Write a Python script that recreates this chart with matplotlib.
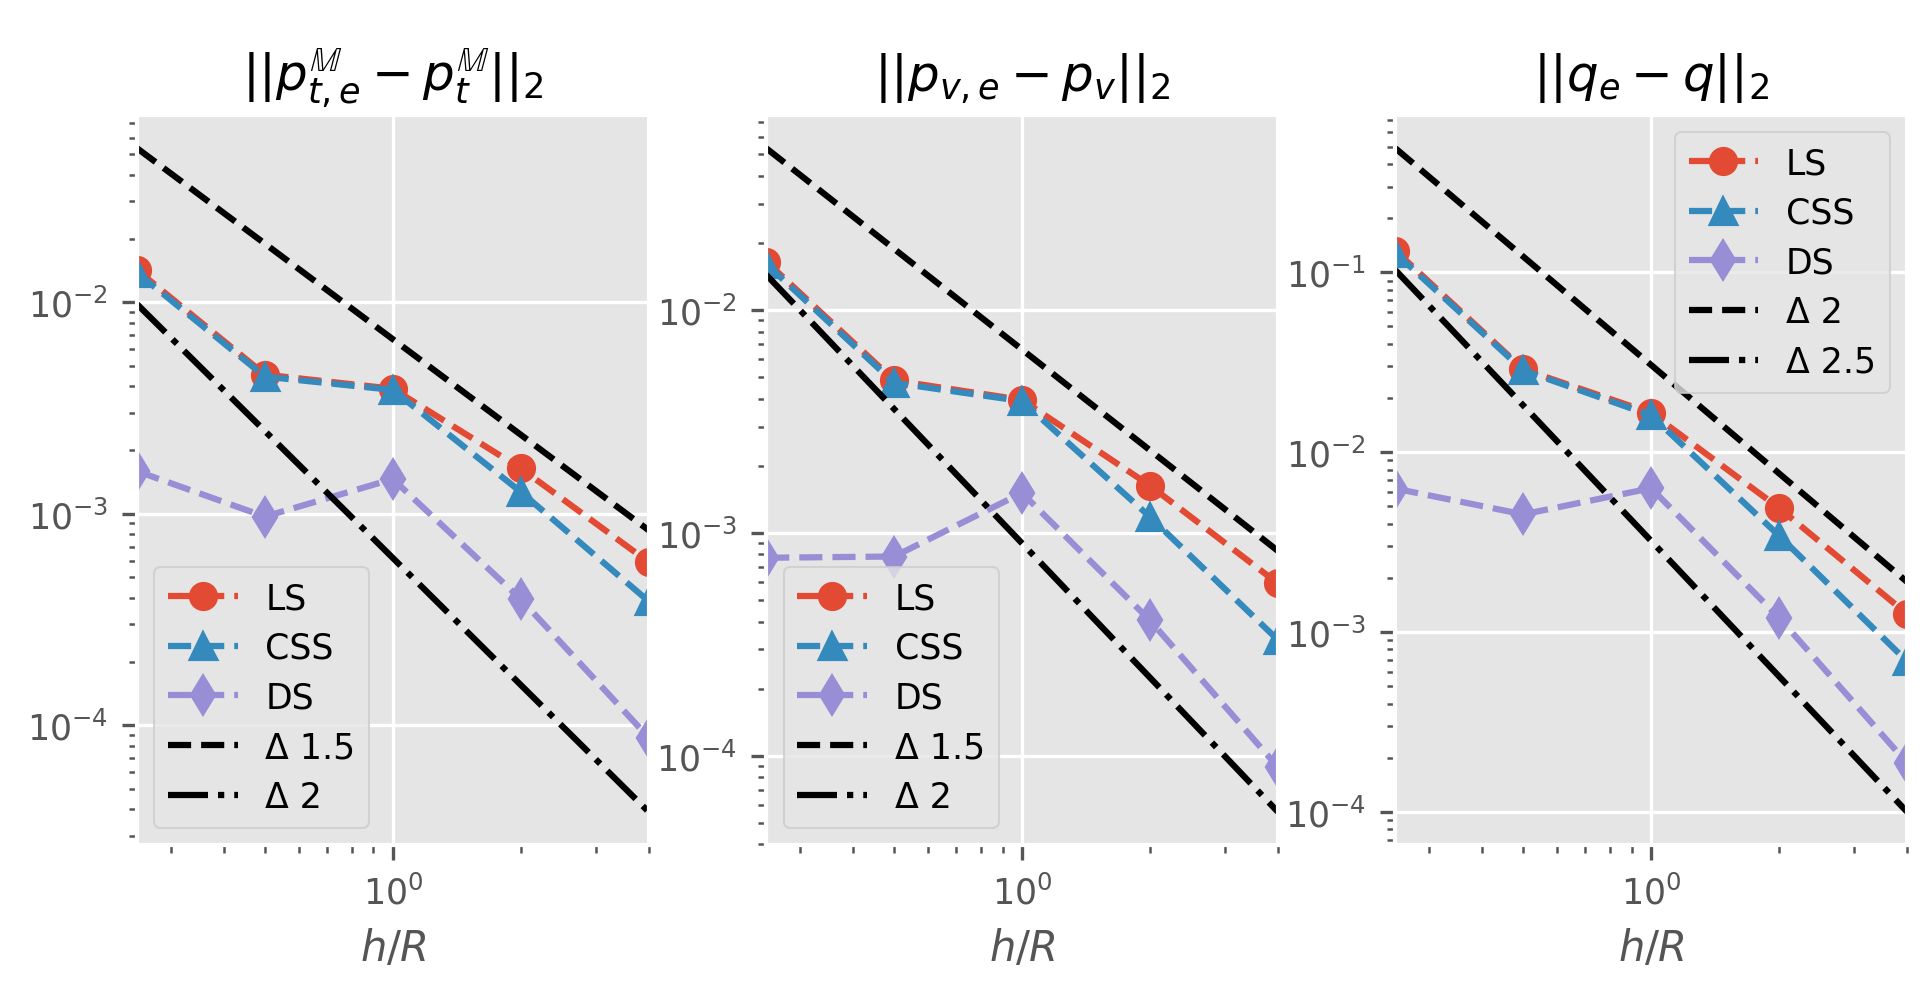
import matplotlib
matplotlib.use("Agg")
import matplotlib.pyplot as plt

plt.style.use('ggplot')
plt.rcParams['font.size'] = 8.33

# mesh sizes
h = [0.25, 0.5, 1.0, 2.0, 4.0]
h_ends = [0.25, 4.0]

# ||p_t,e^M - p_t^M||_2
ls_pt = [0.0142, 4.55e-3, 3.9e-3, 1.64e-3, 5.91e-4]
css_pt = [0.0138, 4.45e-3, 3.85e-3, 1.27e-3, 3.86e-4]
ds_pt = [1.59e-3, 9.7e-4, 1.46e-3, 3.95e-4, 8.75e-5]
ref_a_pt = [0.0535, 8.36e-4]
ref_b_pt = [0.0098, 3.9e-5]

# ||p_v,e - p_v||_2
ls_pv = [0.0165, 4.83e-3, 3.95e-3, 1.63e-3, 5.93e-4]
css_pv = [0.0161, 4.71e-3, 3.9e-3, 1.18e-3, 3.31e-4]
ds_pv = [7.73e-4, 7.83e-4, 1.51e-3, 4.05e-4, 8.9e-5]
ref_a_pv = [0.0532, 8.3e-4]
ref_b_pv = [0.0144, 5.6e-5]

# ||q_e - q||_2
ls_q = [0.132, 0.0289, 0.0165, 4.89e-3, 1.26e-3]
css_q = [0.128, 0.0285, 0.016, 3.43e-3, 6.87e-4]
ds_q = [6.27e-3, 4.51e-3, 6.3e-3, 1.2e-3, 1.87e-4]
ref_a_q = [0.49, 1.9e-3]
ref_b_q = [0.103, 1.0e-4]

titles = [r"$||p^{\mathbb{M}}_{t,e}-p^{\mathbb{M}}_t||_2$",
          r"$||p_{v,e}-p_v||_2$",
          r"$||q_e-q||_2$"]
ref_labels = [["Δ 1.5", "Δ 2"],
              ["Δ 1.5", "Δ 2"],
              ["Δ 2", "Δ 2.5"]]
legend_locs = ["lower left", "lower left", "upper right"]

series = [(ls_pt, css_pt, ds_pt, ref_a_pt, ref_b_pt),
          (ls_pv, css_pv, ds_pv, ref_a_pv, ref_b_pv),
          (ls_q, css_q, ds_q, ref_a_q, ref_b_q)]

fig, axes = plt.subplots(1, 3, figsize=(6.4, 3.3033), dpi=300)
fig.subplots_adjust(left=137/1920, right=1907/1920, bottom=1-846/991,
                    top=1-116/991, wspace=0.2297)

for i, ax in enumerate(axes):
    ls, css, ds, ref_a, ref_b = series[i]
    ax.loglog(h, ls, 'o--', label="LS")
    ax.loglog(h, css, '^--', label="CSS")
    ax.loglog(h, ds, 'd--', label="DS")
    ax.loglog(h_ends, ref_a, 'k--', label=ref_labels[i][0])
    ax.loglog(h_ends, ref_b, 'k-.', label=ref_labels[i][1])
    ax.set_xlim(0.25, 4)
    ax.set_title(titles[i])
    ax.set_xlabel(r"$h/R$")
    ax.legend(loc=legend_locs[i], labelspacing=0.45)

fig.savefig("out.png", dpi=300)
